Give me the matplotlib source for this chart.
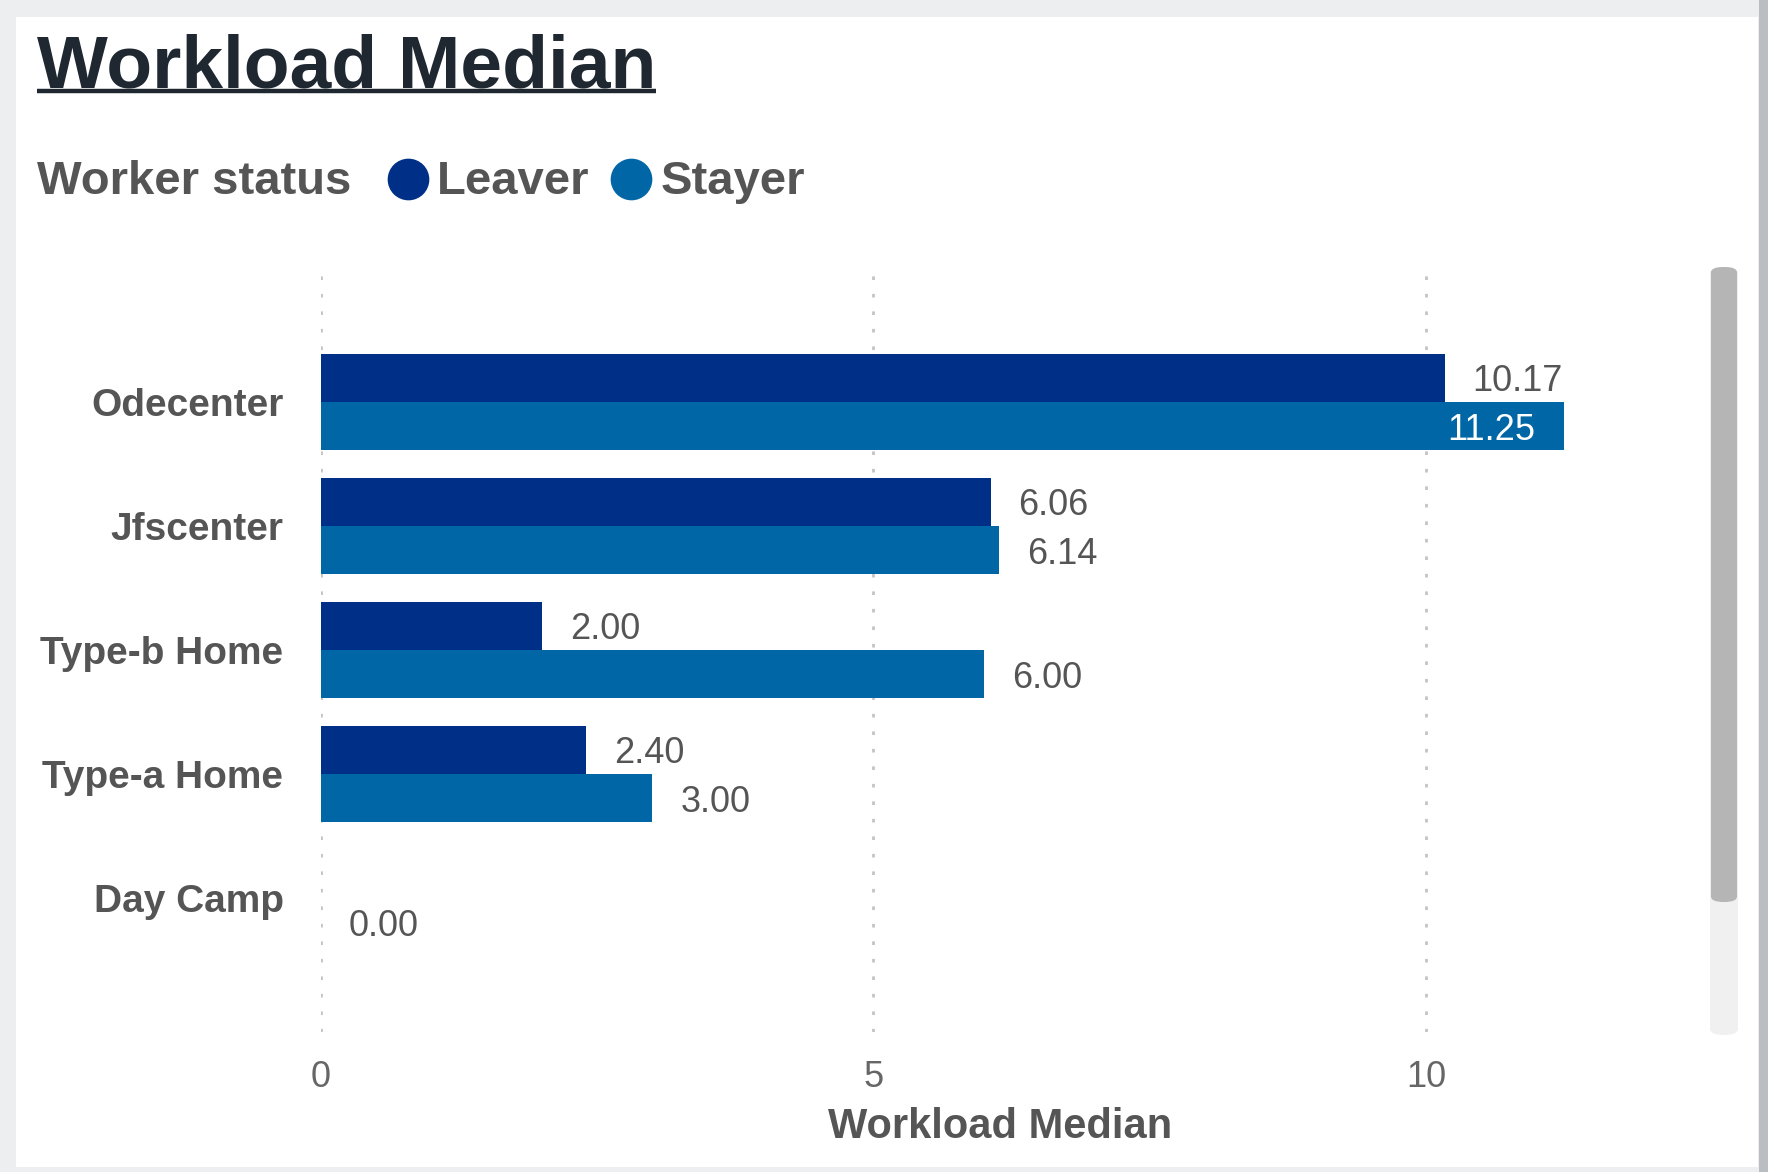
import numpy as np
import matplotlib
matplotlib.use("Agg")
import matplotlib.pyplot as plt
from matplotlib.patches import FancyBboxPatch, Rectangle
from matplotlib.lines import Line2D

# ---- data ----
categories = ["Odecenter", "Jfscenter", "Type-b Home", "Type-a Home", "Day Camp"]
series_names = ["Leaver", "Stayer"]
leaver = [10.17, 6.06, 2.00, 2.40, np.nan]   # no Leaver value for Day Camp
stayer = [11.25, 6.14, 6.00, 3.00, 0.00]
series_colors = ["#002f87", "#0066a5"]
x_ticks = [0, 5, 10]
title = "Workload Median"
legend_title = "Worker status"
x_label = "Workload Median"

plt.rcParams['font.family'] = ['Liberation Sans', 'DejaVu Sans']

W, H = 1768, 1172
fig = plt.figure(figsize=(W / 100, H / 100), dpi=100)
fig.patch.set_facecolor("#eceeef")

def fx(x):
    return x / W

def fy(y):
    return 1 - y / H

# card background
fig.add_artist(Rectangle((fx(16), fy(1167)), fx(1758 - 16), (1167 - 17) / H,
                         transform=fig.transFigure, facecolor="white", edgecolor="none", zorder=0))
fig.add_artist(Rectangle((fx(1759), 0), fx(9), 1, transform=fig.transFigure,
                         facecolor="#babdc1", edgecolor="none", zorder=0))

ax_left, ax_right, ax_top, ax_bottom = 321, 1680, 263, 1032
ax = fig.add_axes([fx(ax_left), fy(ax_bottom), (ax_right - ax_left) / W, (ax_bottom - ax_top) / H])
ax.set_facecolor("none")

y = np.arange(len(categories))
bh = 0.39
xmax = 12.3
vals = [leaver, stayer]
offs = [-bh / 2, bh / 2]
for s, (v, off, c) in enumerate(zip(vals, offs, series_colors)):
    ax.barh(y + off, v, height=bh, color=c, edgecolor="none", zorder=3, label=series_names[s])
    for yi, val in zip(y + off, v):
        if np.isnan(val):
            continue
        if val + 1.2 > xmax:
            ax.annotate(f"{val:.2f}", (val, yi), xytext=(-21, -3), textcoords="offset points",
                        ha="right", va="center", fontsize=26, color="white", zorder=4)
        else:
            ax.annotate(f"{val:.2f}", (val, yi), xytext=(20, -3), textcoords="offset points",
                        ha="left", va="center", fontsize=26, color="#555555", zorder=4)

ax.set_xlim(0, xmax)
ax.set_ylim(len(categories) - 1 + 1.08, -1.12)
ax.set_yticks(y)
ax.set_yticklabels(categories, fontsize=28, fontweight="bold", color="#555555")
ax.set_xticks(x_ticks)
ax.set_xticklabels([str(t) for t in x_ticks], fontsize=26, color="#666666")
ax.tick_params(axis="both", length=0)
ax.tick_params(axis="y", pad=27)
ax.tick_params(axis="x", pad=20)
for sp in ax.spines.values():
    sp.set_visible(False)
ax.set_axisbelow(True)
ax.xaxis.grid(True, color="#c4c4c4", linewidth=2.0, linestyle=(0, (1.3, 5)))
ax.yaxis.grid(False)
ax.set_xlabel(x_label, fontsize=30, fontweight="bold", color="#555555", labelpad=9)

# title with underline
t = fig.text(fx(37), fy(88), title, fontsize=54, fontweight="bold", color="#1f2730",
             ha="left", va="baseline")
fig.canvas.draw()
bb = t.get_window_extent()
fig.add_artist(Line2D([bb.x0 / W, bb.x1 / W], [fy(91), fy(91)], transform=fig.transFigure,
                      color="#1f2730", linewidth=3.2, solid_capstyle="butt"))

# legend
leg_y = 182
fig.text(fx(37), fy(leg_y), legend_title, fontsize=34, fontweight="bold", color="#555555",
         ha="left", va="center")
leg_pos = [(408, 437), (631, 661)]
for (cx, tx), name, c in zip(leg_pos, series_names, series_colors):
    fig.add_artist(Line2D([fx(cx)], [fy(179)], transform=fig.transFigure, marker="o",
                          markersize=29, color=c, linestyle="none"))
    fig.text(fx(tx), fy(leg_y), name, fontsize=34, fontweight="bold", color="#555555",
             ha="left", va="center")

# scrollbar
fig.add_artist(FancyBboxPatch((fx(1710), fy(1035)), fx(28), (1035 - 267) / H,
                              boxstyle="round,pad=0,rounding_size=0.008", transform=fig.transFigure,
                              facecolor="#f0f0f0", edgecolor="none", mutation_aspect=H / W))
fig.add_artist(FancyBboxPatch((fx(1711), fy(902)), fx(26), (902 - 267) / H,
                              boxstyle="round,pad=0,rounding_size=0.007", transform=fig.transFigure,
                              facecolor="#b5b5b5", edgecolor="none", mutation_aspect=H / W))

fig.savefig("out.png", dpi=100)
